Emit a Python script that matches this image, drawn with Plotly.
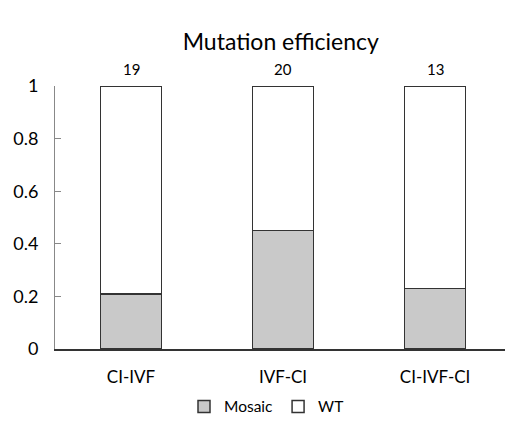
import plotly.graph_objects as go

categories = ["CI-IVF", "IVF-CI", "CI-IVF-CI"]
mosaic = [0.21, 0.45, 0.23]
wt = [0.79, 0.55, 0.77]
counts = ["19", "20", "13"]
y_ticks = [0, 0.2, 0.4, 0.6, 0.8, 1]
y_tick_text = ["0", "0.2", "0.4", "0.6", "0.8", "1"]

FONT = "Lato"
fig = go.Figure()
fig.add_trace(go.Bar(x=categories, y=mosaic, name="Mosaic", width=0.4,
                     marker=dict(color="#c9c9c9", line=dict(color="#333333", width=1.5))))
fig.add_trace(go.Bar(x=categories, y=wt, name="WT", width=0.4,
                     marker=dict(color="#ffffff", line=dict(color="#333333", width=1.5))))

for c, n in zip(categories, counts):
    fig.add_annotation(x=c, y=1, text=n, showarrow=False, yanchor="bottom", yshift=6,
                       font=dict(family=FONT, size=15, color="#000000"))

fig.update_layout(
    barmode="stack",
    width=505, height=424,
    margin=dict(l=55, r=0, t=86, b=72),
    paper_bgcolor="white", plot_bgcolor="white",
    title=dict(text="Mutation efficiency", x=0.556, xref="container", xanchor="center",
               y=1 - 42/424, yref="container", yanchor="middle",
               font=dict(family=FONT, size=23, color="#000000")),
    font=dict(family=FONT, color="#000000"),
    showlegend=True,
    legend=dict(orientation="h", x=0.47, xanchor="center", y=-0.22, yanchor="middle",
                font=dict(family=FONT, size=15.5, color="#000000"), traceorder="normal",
                itemwidth=30),
    xaxis=dict(range=[-0.5, 2.46], showline=True, linecolor="#333333", linewidth=1.5,
               ticks="", showgrid=False, zeroline=False, ticklabelstandoff=12,
               tickfont=dict(family=FONT, size=17, color="#000000")),
    yaxis=dict(range=[0, 1], tickvals=y_ticks, ticktext=y_tick_text, showline=True,
               linecolor="#888888", linewidth=1, ticks="inside", ticklen=6, tickcolor="#888888",
               showgrid=False, zeroline=False, ticklabelstandoff=12,
               tickfont=dict(family=FONT, size=18, color="#000000")),
)

fig.write_html("out.html", config={"displayModeBar": False},
               post_script="document.body.style.margin='0';")
